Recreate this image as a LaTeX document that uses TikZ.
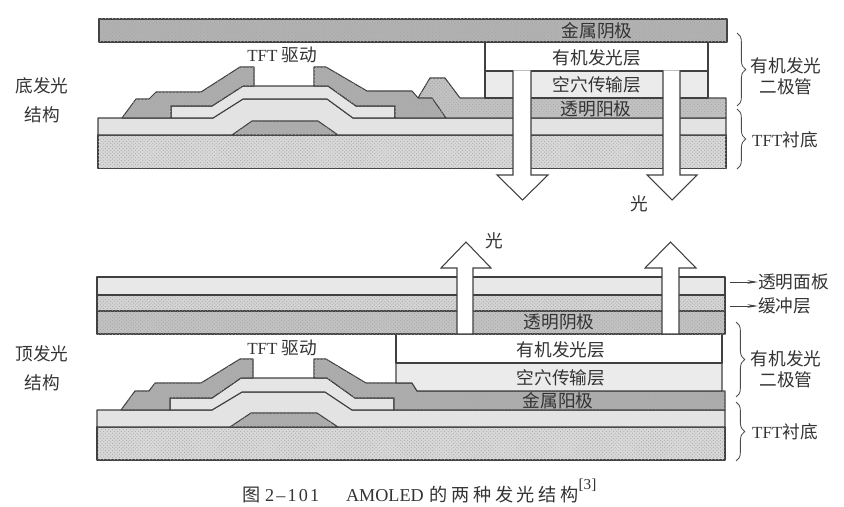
\documentclass[tikz,border=0pt]{standalone}
\usepackage{fontspec}
\setmainfont{Liberation Serif}
\newfontfamily\cjk{Noto Sans CJK SC}[Scale=1.04]
\newfontfamily\cjkcap{Noto Sans CJK SC}[LetterSpace=20]
\newfontfamily\numcap{Liberation Serif}[LetterSpace=12]
\usetikzlibrary{arrows.meta,decorations.pathreplacing,patterns}
\definecolor{metalgray}{gray}{0.70}
\definecolor{anodegray}{gray}{0.76}
\definecolor{basegray}{gray}{0.85}
\definecolor{firstgray}{gray}{0.89}
\definecolor{sdgray}{gray}{0.68}
\definecolor{semigray}{gray}{0.90}
\definecolor{htlgray}{gray}{0.92}
\definecolor{panelgray}{gray}{0.91}
\definecolor{buffergray}{gray}{0.83}
\tikzset{
  layer/.style={draw=black!75, line width=0.9pt, line join=round},
  grainy/.style={postaction={pattern=crosshatch dots, pattern color=black!35}},
  lightarrow/.style={draw=black!75, fill=white, line width=0.9pt},
  txt/.style={font=\fontsize{14.5}{17}\selectfont\cjk, text=black!80, inner sep=0pt},
  bracket/.style={draw=black!70, line width=0.7pt, decorate, decoration={brace,amplitude=7.5pt}},
}
\begin{document}
\begin{tikzpicture}[x=0.03cm,y=-0.03cm]
\useasboundingbox (0,0) rectangle (844,507);
% ===== Bottom emission =====
% Substrate
\draw[layer, fill=basegray, grainy] (98,135) rectangle (726,168.5);
\draw[layer, fill=firstgray] (98,135) -- (98,118) -- (213,118) -- (243,99) -- (327,99) -- (353,118) -- (726,118) -- (726,135) -- cycle;
% Gate and semiconductor
\draw[layer, fill=sdgray, grainy] (232,135) -- (252,121) -- (318,121) -- (338,135) -- cycle;
\draw[layer, fill=semigray] (171,118) -- (171,106) -- (212,106) -- (243,86) -- (328,86) -- (356,106) -- (395,106) -- (395,118) -- (353,118) -- (327,99) -- (243,99) -- (213,118) -- cycle;
% Transparent anode
\draw[layer, fill=anodegray, grainy] (418,98) -- (430,78) -- (445,78) -- (460,98) -- (726,98) -- (726,118) -- (446,118) -- cycle;
% Source and drain
\draw[layer, fill=sdgray, grainy] (122,118) -- (136,99) -- (149,99) -- (156,92) -- (201,92) -- (240,67) -- (254,67) -- (254,86) -- (243,86) -- (212,106) -- (171,106) -- (171,118) -- cycle;
\draw[layer, fill=sdgray, grainy] (314,67) -- (326,67) -- (367,91) -- (412,91) -- (418,98) -- (432,98) -- (446,118) -- (395,118) -- (395,106) -- (356,106) -- (328,86) -- (314,86) -- cycle;
% OLED layers
\draw[layer, fill=htlgray] (485,71) rectangle (708,98);
\draw[layer, fill=white] (485,42) rectangle (708,71);
\draw[layer, fill=metalgray, grainy] (99,19) rectangle (727,42);
% Light going down
\foreach \xl/\xr/\hl/\hr in {513/531/497/548,663/680/647/697} {
  \draw[lightarrow] (\xl,70.5) -- (\xl,175) -- (\hl,175) -- ({(\hl+\hr)/2},200) -- (\hr,175) -- (\xr,175) -- (\xr,70.5);
}
% ===== Top emission =====
% Substrate
\draw[layer, fill=basegray, grainy] (97,427) rectangle (725,460);
\draw[layer, fill=firstgray] (97,427) -- (97,410) -- (212,410) -- (242,392) -- (325,392) -- (352,410) -- (725,410) -- (725,427) -- cycle;
% Gate and semiconductor
\draw[layer, fill=sdgray, grainy] (230,427) -- (251,413) -- (317,413) -- (338,427) -- cycle;
\draw[layer, fill=semigray] (170,410) -- (170,398) -- (212,398) -- (241,378) -- (327,378) -- (355,398) -- (394,398) -- (394,410) -- (352,410) -- (325,392) -- (242,392) -- (212,410) -- cycle;
% Metal anode
\draw[layer, fill=sdgray, grainy] (121,410) -- (135,391) -- (149,391) -- (155,383) -- (201,383) -- (240,359) -- (253,359) -- (253,378) -- (241,378) -- (212,398) -- (170,398) -- (170,410) -- cycle;
\draw[layer, fill=sdgray, grainy] (314,359) -- (326,359) -- (366,383) -- (412,383) -- (417,391) -- (725,391) -- (725,410) -- (394,410) -- (394,398) -- (355,398) -- (327,378) -- (314,378) -- cycle;
% OLED layers
\draw[layer, fill=htlgray] (396,363) -- (722,363) -- (722,391) -- (417,391) -- (412,383) -- (396,383) -- cycle;
\draw[layer, fill=white] (396,334) rectangle (722,363);
% Cathode, buffer, panel
\draw[layer, fill=anodegray, grainy] (97,311) rectangle (725,334);
\draw[layer, fill=buffergray, grainy] (97,295) rectangle (725,311);
\draw[layer, fill=panelgray] (97,277) rectangle (725,295);
% Light going up
\foreach \xl/\xr/\hl/\hr in {457/473/441/491,662/679/645/696} {
  \draw[lightarrow] (\xl,334) -- (\xl,268) -- (\hl,268) -- ({(\hl+\hr)/2},242) -- (\hr,268) -- (\xr,268) -- (\xr,334) -- cycle;
}
% Layer names
\node[txt] (cathodeA) at (597,31) {金属阴极};
\node[txt] (emitA) at (597,58) {有机发光层};
\node[txt] (htlA) at (597,85) {空穴传输层};
\node[txt] (anodeA) at (596,109) {透明阳极};
\node[txt] (cathodeB) at (559,322) {透明阴极};
\node[txt] (emitB) at (561,350) {有机发光层};
\node[txt] (htlB) at (561,378) {空穴传输层};
\node[txt] (anodeB) at (558,401) {金属阳极};
\node[txt] (tftA) at (282,55) {{\rmfamily TFT} 驱动};
\node[txt] (tftB) at (282,348) {{\rmfamily TFT} 驱动};
\node[txt] (lightA) at (639,204) {光};
\node[txt] (lightB) at (494,241) {光};
\node[txt, align=center] (typeA) at (42,100) {底发光\\[7.5pt]结构};
\node[txt, align=center] (typeB) at (42,368) {顶发光\\[7.5pt]结构};
% Right side labels
\node[txt, align=center] (oledA) at (786,76) {有机发光\\[1pt]二极管};
\node[txt, align=center] (oledB) at (786,369) {有机发光\\[1pt]二极管};
\node[txt, anchor=west] (subA) at (752,140) {{\rmfamily TFT}衬底};
\node[txt, anchor=west] (subB) at (752,432) {{\rmfamily TFT}衬底};
\node[txt, anchor=west] (panel) at (758,282) {透明面板};
\node[txt, anchor=west] (buffer) at (758,306) {缓冲层};
% Braces
\coordinate (oledAt) at (737,33);
\coordinate (oledAb) at (737,106);
\coordinate (subAt) at (737,109);
\coordinate (subAb) at (737,169);
\coordinate (oledBt) at (736,322);
\coordinate (oledBb) at (736,397);
\coordinate (subBt) at (736,402);
\coordinate (subBb) at (736,461);
\foreach \n in {oledA,subA,oledB,subB} {
  \draw[bracket] (\n t) -- (\n b);
}
% Small arrows
\coordinate (panelfrom) at (730,282);
\coordinate (bufferfrom) at (730,306);
\draw[-{Stealth[length=9pt,width=3pt]}, black!75, line width=0.6pt] (panelfrom) -- (panel.west);
\draw[-{Stealth[length=9pt,width=3pt]}, black!75, line width=0.6pt] (bufferfrom) -- (buffer.west);
% Caption
\node[txt, anchor=west, font=\fontsize{15.5}{18}\selectfont] (caption) at (242,491) {{\cjkcap 图}\hspace{4pt}{\numcap 2–101}\hspace{23pt}AMOLED\hspace{5pt}{\cjkcap 的两种发光结构}\raisebox{1.5ex}{\fontsize{13}{13}\selectfont [3]}};
\end{tikzpicture}
\end{document}
